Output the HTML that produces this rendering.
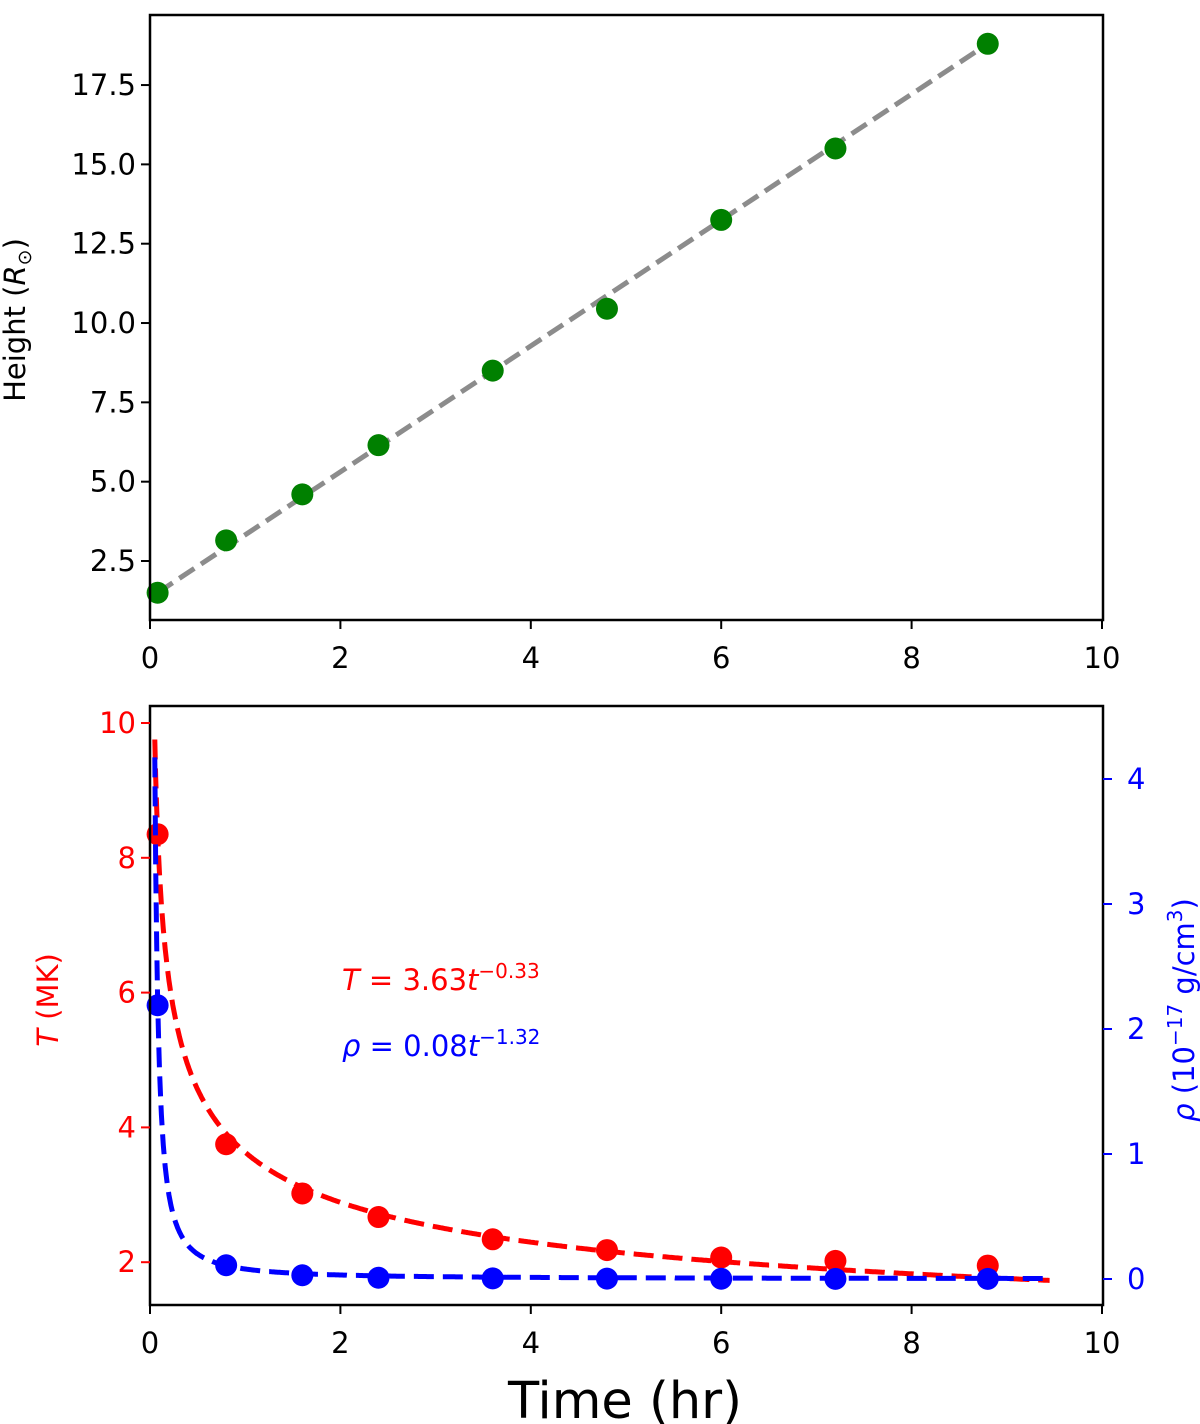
<!DOCTYPE html>
<html><head><meta charset="utf-8"><style>
html,body{margin:0;padding:0;background:#fff}
svg{display:block;font-family:"DejaVu Sans","Liberation Sans",sans-serif}
</style></head><body>
<svg id="fig" width="1200" height="1424" viewBox="0 0 1200 1424"></svg>
<script>
const hTimes=[0.08,0.8,1.6,2.4,3.6,4.8,6.0,7.2,8.8];
const heights=[1.5,3.15,4.6,6.15,8.5,10.45,13.25,15.5,18.8];
const hFit=[[0.08,1.5],[8.8,18.8]];
const tTimes=[0.08,0.8,1.6,2.4,3.6,4.8,6.0,7.2,8.8];
const temps=[8.35,3.75,3.02,2.67,2.34,2.18,2.07,2.02,1.95];
const rhos=[2.19,0.11,0.03,0.01,0.005,0.003,0.002,0.001,0.001];
const xTicks=[0,2,4,6,8,10];
const hTicks=[2.5,5.0,7.5,10.0,12.5,15.0,17.5];
const tTicks=[2,4,6,8,10];
const rTicks=[0,1,2,3,4];
const fitT={a:3.63,b:-0.33};
const fitR={a:0.08,b:-1.32};

const NS="http://www.w3.org/2000/svg";
const svg=document.getElementById('fig');
function el(tag,attrs,parent){const e=document.createElementNS(NS,tag);for(const k in attrs)e.setAttribute(k,attrs[k]);(parent||svg).appendChild(e);return e;}
const L=150,R=1103;
const FS=29;
const xs=v=>L+(v/10)*(1102-L);
const yH=v=>561-(v-2.5)*31.73;
const yT=v=>723+(10-v)*67.4;
const yR=v=>1279-v*125;

function txt(x,y,s,opts,name){const t=el('text',Object.assign({x:x,y:y,'font-size':FS,fill:'#000'},opts||{}));t.textContent=s;


return t;}

// ---- top panel
let g=el('g',{});


let fit=el('line',{x1:xs(hFit[0][0]),y1:yH(hFit[0][1]),x2:xs(hFit[1][0]),y2:yH(hFit[1][1]),stroke:'#8c8c8c','stroke-width':5,'stroke-dasharray':'18,8'},g);


hTimes.forEach((t,i)=>{const c=el('circle',{cx:xs(t),cy:yH(heights[i]),r:11,fill:'#008000'},g);

});
let f1=el('rect',{x:L,y:15,width:R-L,height:605,fill:'none',stroke:'#000','stroke-width':2.5},g);


xTicks.forEach(v=>{el('line',{x1:xs(v),y1:620,x2:xs(v),y2:629,stroke:'#000','stroke-width':2},g);
txt(xs(v),668,String(v),{'text-anchor':'middle'},'x-tick-label');});
hTicks.forEach(v=>{el('line',{x1:L,y1:yH(v),x2:L-9,y2:yH(v),stroke:'#000','stroke-width':2},g);
txt(L-14,yH(v)+10,v.toFixed(1),{'text-anchor':'end'},'y-tick-label');});
let hl=txt(0,0,'',{transform:'translate(25,320) rotate(-90)','text-anchor':'middle'},'y-axis-title');
hl.innerHTML='Height (<tspan font-style="italic">R</tspan><tspan font-size="19" dy="6">⊙</tspan><tspan dy="-6">)</tspan>';

// ---- bottom panel
g=el('g',{});


function curve(p,yf){let d='';for(let t=0.05;t<=9.45;t+=0.01){const x=xs(t),y=yf(p.a*Math.pow(t,p.b));d+=(d?'L':'M')+x.toFixed(1)+','+y.toFixed(1);}return d;}
let cT=el('path',{d:curve(fitT,yT),fill:'none',stroke:'#ff0000','stroke-width':5,'stroke-dasharray':'20,9'},g);


tTimes.forEach((t,i)=>{const c=el('circle',{cx:xs(t),cy:yT(temps[i]),r:11,fill:'#ff0000'},g);

});
let cR=el('path',{d:curve(fitR,yR),fill:'none',stroke:'#0000ff','stroke-width':5,'stroke-dasharray':'20,9'},g);


tTimes.forEach((t,i)=>{const c=el('circle',{cx:xs(t),cy:yR(rhos[i]),r:11,fill:'#0000ff'},g);

});
let f2=el('rect',{x:L,y:706,width:R-L,height:599,fill:'none',stroke:'#000','stroke-width':2.5},g);


xTicks.forEach(v=>{el('line',{x1:xs(v),y1:1305,x2:xs(v),y2:1314,stroke:'#000','stroke-width':2},g);
txt(xs(v),1353,String(v),{'text-anchor':'middle'},'x-tick-label');});
tTicks.forEach(v=>{el('line',{x1:L,y1:yT(v),x2:L-9,y2:yT(v),stroke:'#ff0000','stroke-width':2},g);
txt(L-14,yT(v)+10,String(v),{'text-anchor':'end',fill:'#ff0000'},'left-tick-label');});
rTicks.forEach(v=>{el('line',{x1:R,y1:yR(v),x2:R+9,y2:yR(v),stroke:'#0000ff','stroke-width':2},g);
txt(R+24,yR(v)+10,String(v),{'text-anchor':'start',fill:'#0000ff'},'right-tick-label');});
let tl=txt(0,0,'',{transform:'translate(58,1000) rotate(-90)','text-anchor':'middle',fill:'#ff0000'},'left-axis-title');
tl.innerHTML='<tspan font-style="italic">T</tspan> (MK)';
let rl=txt(0,0,'',{transform:'translate(1194,1010) rotate(-90)','text-anchor':'middle',fill:'#0000ff'},'right-axis-title');
rl.innerHTML='<tspan font-style="italic">ρ</tspan> (10<tspan font-size="20" dy="-12">−17</tspan><tspan dy="12"> g/cm</tspan><tspan font-size="20" dy="-12">3</tspan><tspan dy="12">)</tspan>';
let a1=txt(342,990,'',{fill:'#ff0000'},'temperature-fit-annotation');
a1.innerHTML='<tspan font-style="italic">T</tspan> = 3.63<tspan font-style="italic">t</tspan><tspan font-size="20" dy="-12">−0.33</tspan>';
let a2=txt(342,1056,'',{fill:'#0000ff'},'density-fit-annotation');
a2.innerHTML='<tspan font-style="italic">ρ</tspan> = 0.08<tspan font-style="italic">t</tspan><tspan font-size="20" dy="-12">−1.32</tspan>';
txt(625,1418,'Time (hr)',{'text-anchor':'middle','font-size':51},'x-axis-title');
</script>
</body></html>
